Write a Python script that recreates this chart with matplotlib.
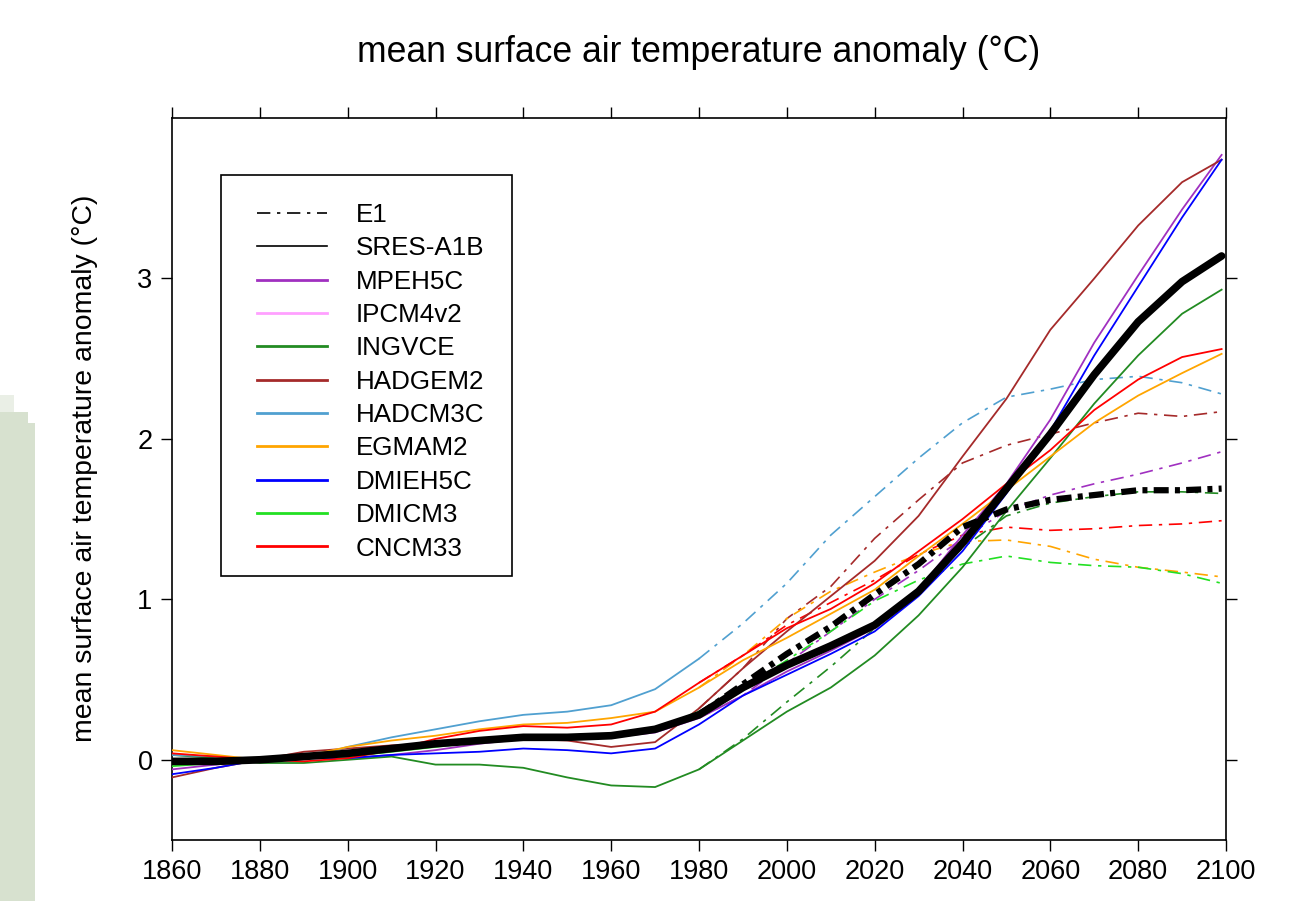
import numpy as np
import matplotlib
matplotlib.use("Agg")
import matplotlib.pyplot as plt
from matplotlib.lines import Line2D
from matplotlib.patches import Rectangle

plt.rcParams['font.family'] = ['Liberation Sans', 'DejaVu Sans']

nan = np.nan
YEARS = [1860, 1870, 1880, 1890, 1900, 1910, 1920, 1930, 1940, 1950, 1960, 1970,
         1980, 1990, 2000, 2010, 2020, 2030, 2040, 2050, 2060, 2070, 2080, 2090, 2099]
E1_YEARS = [1980, 1990, 2000, 2010, 2020, 2030, 2040, 2050, 2060, 2070, 2080, 2090, 2099]

# historical + SRES-A1B runs (solid)
MEAN_A1B = [-0.01, -0.01, 0.00, 0.02, 0.04, 0.07, 0.10, 0.12, 0.14, 0.14, 0.15, 0.19,
            0.28, 0.45, 0.59, 0.71, 0.84, 1.05, 1.35, 1.69, 2.03, 2.40, 2.73, 2.98, 3.14]
MPEH5C = [-0.06, -0.03, 0.00, 0.01, 0.01, 0.03, 0.06, 0.10, 0.13, 0.14, 0.14, 0.17,
          0.26, 0.40, 0.55, 0.68, 0.82, 1.06, 1.40, 1.72, 2.12, 2.60, 3.02, 3.43, 3.77]
IPCM4V2 = []
INGVCE = [0.03, 0.01, -0.02, -0.02, 0.00, 0.02, -0.03, -0.03, -0.05, -0.11, -0.16, -0.17,
          -0.06, 0.12, 0.30, 0.45, 0.65, 0.90, 1.20, 1.55, 1.88, 2.22, 2.52, 2.78, 2.93]
HADGEM2 = [-0.11, -0.05, 0.00, 0.05, 0.07, 0.09, 0.10, 0.11, 0.13, 0.12, 0.08, 0.11,
           0.32, 0.57, 0.80, 1.02, 1.24, 1.52, 1.89, 2.25, 2.68, 3.00, 3.33, 3.60, 3.74]
HADCM3C = [0.03, 0.02, 0.00, 0.01, 0.08, 0.14, 0.19, 0.24, 0.28, 0.30, 0.34, 0.44,
           0.63, nan, nan, nan, nan, nan, nan, nan, nan, nan, nan, nan, nan]
EGMAM2 = [0.06, 0.03, 0.00, 0.02, 0.08, 0.12, 0.15, 0.19, 0.22, 0.23, 0.26, 0.30,
          0.45, 0.62, 0.76, 0.91, 1.06, 1.27, 1.47, 1.68, 1.89, 2.10, 2.27, 2.41, 2.53]
DMIEH5C = [-0.09, -0.05, 0.00, 0.01, 0.01, 0.03, 0.04, 0.05, 0.07, 0.06, 0.04, 0.07,
           0.22, 0.40, 0.53, 0.66, 0.80, 1.02, 1.30, 1.66, 2.05, 2.52, 2.95, 3.38, 3.74]
DMICM3 = [-0.04, -0.02, 0.00, 0.01, 0.02, 0.05, 0.08, 0.11, 0.14, 0.15, 0.16, 0.19,
          0.30, nan, nan, nan, nan, nan, nan, nan, nan, nan, nan, nan, nan]
CNCM33 = [0.04, 0.02, 0.00, -0.01, 0.01, 0.06, 0.13, 0.18, 0.21, 0.20, 0.22, 0.30,
          0.48, 0.65, 0.82, 0.94, 1.10, 1.30, 1.50, 1.72, 1.93, 2.18, 2.37, 2.51, 2.56]

# E1 scenario runs (dash-dot)
MEAN_E1 = [0.28, 0.47, 0.66, 0.83, 1.03, 1.22, 1.45, 1.56, 1.62, 1.65, 1.68, 1.68, 1.69]
HADCM3C_E1 = [0.63, 0.85, 1.10, 1.40, 1.64, 1.88, 2.10, 2.26, 2.31, 2.37, 2.39, 2.35, 2.28]
DMICM3_E1 = [0.30, 0.45, 0.62, 0.80, 0.99, 1.12, 1.22, 1.27, 1.23, 1.21, 1.20, 1.16, 1.10]
HADGEM2_E1 = [0.32, 0.57, 0.88, 1.08, 1.38, 1.62, 1.85, 1.96, 2.03, 2.10, 2.16, 2.14, 2.17]
MPEH5C_E1 = [0.26, 0.40, 0.60, 0.80, 1.00, 1.18, 1.38, 1.55, 1.65, 1.72, 1.78, 1.85, 1.92]
CNCM33_E1 = [0.48, 0.65, 0.84, 0.98, 1.12, 1.28, 1.40, 1.45, 1.43, 1.44, 1.46, 1.47, 1.49]
EGMAM2_E1 = [0.45, 0.65, 0.88, 1.05, 1.17, 1.28, 1.36, 1.37, 1.33, 1.25, 1.20, 1.17, 1.14]
INGVCE_E1 = [-0.06, 0.13, 0.36, 0.58, 0.82, 1.06, 1.32, 1.52, 1.60, 1.64, 1.67, 1.67, 1.66]

MODELS = ["MPEH5C", "IPCM4v2", "INGVCE", "HADGEM2", "HADCM3C",
          "EGMAM2", "DMIEH5C", "DMICM3", "CNCM33"]
COLORS = ["#a030c0", "#ffa0ff", "#228b22", "#a52a2a", "#50a0d0",
          "#ffa500", "#0000ff", "#22e022", "#ff0000"]
A1B_SERIES = [MPEH5C, IPCM4V2, INGVCE, HADGEM2, HADCM3C, EGMAM2, DMIEH5C, DMICM3, CNCM33]
E1_SERIES = [MPEH5C_E1, None, INGVCE_E1, HADGEM2_E1, HADCM3C_E1, EGMAM2_E1, None, DMICM3_E1, CNCM33_E1]

XTICKS = [1860, 1880, 1900, 1920, 1940, 1960, 1980, 2000, 2020, 2040, 2060, 2080, 2100]
YTICKS = [0, 1, 2, 3]
TITLE = "mean surface air temperature anomaly (°C)"

W, H = 1302, 901
fig = plt.figure(figsize=(W / 100, H / 100), dpi=100)

def fx(px):
    return px / W

def fy(py):
    return 1 - py / H

# background strip at left edge
fig.patches.append(Rectangle((0, 0), fx(35), fy(423), transform=fig.transFigure,
                             facecolor="#d7e1cf", edgecolor="none", zorder=0))
fig.patches.append(Rectangle((0, fy(423)), fx(28), 11 / H, transform=fig.transFigure,
                             facecolor="#d7e1cf", edgecolor="none", zorder=0))
fig.patches.append(Rectangle((0, fy(412)), fx(14), 17 / H, transform=fig.transFigure,
                             facecolor="#eaefe6", edgecolor="none", zorder=0))

ax = fig.add_axes([fx(172), fy(840), fx(1226) - fx(172), fy(118) - fy(840)])

DD = (0, (8, 4, 2, 4))
for name, col, ser, e1 in zip(MODELS, COLORS, A1B_SERIES, E1_SERIES):
    if e1 is not None:
        ax.plot(E1_YEARS, e1, color=col, lw=1.2, linestyle=DD, zorder=2)
for name, col, ser, e1 in zip(MODELS, COLORS, A1B_SERIES, E1_SERIES):
    if len(ser):
        ax.plot(YEARS, ser, color=col, lw=1.3, zorder=3)

ax.plot(E1_YEARS, MEAN_E1, color="black", lw=4.5, linestyle=(0, (2.4, 1.0, 0.8, 1.0)), zorder=5)
ax.plot(YEARS, MEAN_A1B, color="black", lw=5.5, solid_capstyle="round", zorder=6)

ax.set_xlim(1860, 2100)
ax.set_ylim(-0.5, 4.0)
ax.set_xticks(XTICKS)
ax.set_yticks(YTICKS)
ax.tick_params(direction="out", length=8, width=1.0, labelsize=19.5, pad=6,
               top=True, right=True, labeltop=False, labelright=False)
for s in ax.spines.values():
    s.set_linewidth(1.2)

fig.text(fx(85), fy(468), TITLE, rotation=90, ha="center", va="center", fontsize=20.4)
fig.text(fx(699), fy(52), TITLE, ha="center", va="center", fontsize=25.6)

handles = [Line2D([], [], color="black", lw=1.2, linestyle=DD),
           Line2D([], [], color="black", lw=1.2)]
labels = ["E1", "SRES-A1B"]
for name, col in zip(MODELS, COLORS):
    handles.append(Line2D([], [], color=col, lw=2.0))
    labels.append(name)

# legend frame drawn separately
fig.patches.append(Rectangle((fx(221), fy(576)), fx(512) - fx(221), fy(175) - fy(576),
                             transform=fig.transFigure, facecolor="white",
                             edgecolor="black", lw=1.2, zorder=7))
leg = fig.legend(handles, labels, loc="upper left", bbox_to_anchor=(fx(257), fy(203)),
                 bbox_transform=fig.transFigure,
                 fontsize=18.7, frameon=False,
                 handlelength=2.7, handletextpad=1.1, labelspacing=0.36, borderpad=0,
                 borderaxespad=0)
leg.set_zorder(8)

fig.savefig("out.png", dpi=100)
